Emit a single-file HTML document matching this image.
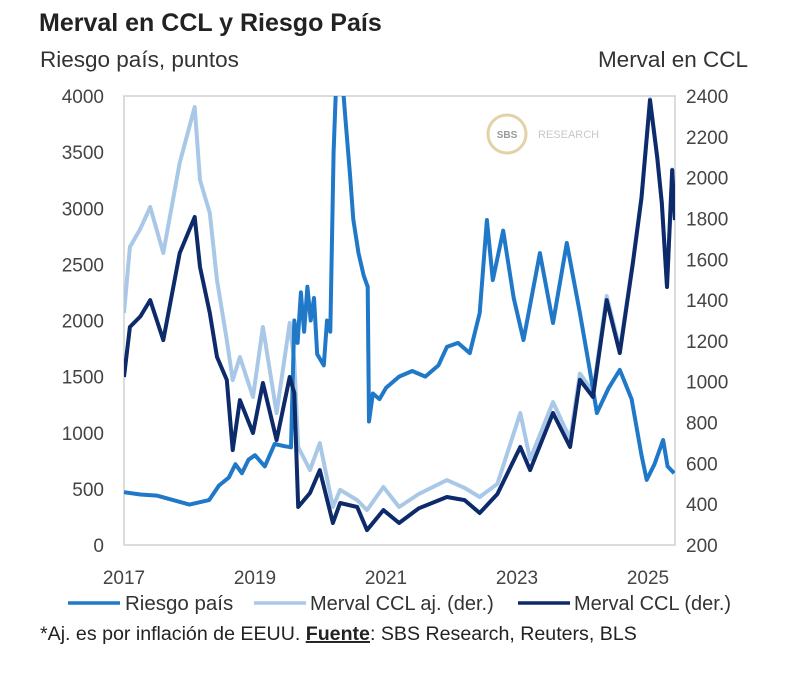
<!DOCTYPE html>
<html><head><meta charset="utf-8"><style>
body{margin:0;background:#fff;font-family:"Liberation Sans",sans-serif;}
#wrap{position:relative;width:800px;height:685px;overflow:hidden;}
</style></head><body>
<div id="wrap">
<svg id="chart" width="800" height="685" font-family="Liberation Sans, sans-serif">
<text x="39" y="31" font-size="25" font-weight="bold" fill="#222">Merval en CCL y Riesgo País</text>
<text x="40" y="67" font-size="22.5" fill="#333">Riesgo país, puntos</text>
<text x="748" y="67" font-size="22.5" fill="#333" text-anchor="end">Merval en CCL</text>
<rect x="124" y="96" width="551" height="449" fill="none" stroke="#d0d0d0" stroke-width="1.5"/>
<g>
<circle cx="507" cy="134" r="19" fill="none" stroke="#e3d2a8" stroke-width="3"/>
<text x="507" y="138" font-size="10" font-weight="bold" fill="#999" text-anchor="middle">SBS</text>
<text x="538" y="138" font-size="11" fill="#c8c8c8">RESEARCH</text>
</g>
<g id="lticks"></g><g id="rticks"></g><g id="xticks"></g>
<defs><clipPath id="clip"><rect x="124" y="96" width="551" height="449"/></clipPath></defs>
<g id="series" clip-path="url(#clip)"></g>
<g>
<line x1="68" y1="603" x2="120" y2="603" stroke="#1f78c8" stroke-width="3.5"/>
<text x="125" y="610" font-size="20.5" fill="#333">Riesgo país</text>
<line x1="254" y1="603" x2="306" y2="603" stroke="#a9c8e8" stroke-width="3.5"/>
<text x="310" y="610" font-size="20" fill="#333">Merval CCL aj. (der.)</text>
<line x1="518" y1="603" x2="570" y2="603" stroke="#0d2a6b" stroke-width="3.5"/>
<text x="574" y="610" font-size="20" fill="#333">Merval CCL (der.)</text>
</g>
<text x="40" y="640" font-size="19.6" fill="#222">*Aj. es por inflación de EEUU. <tspan font-weight="bold" text-decoration="underline">Fuente</tspan>: SBS Research, Reuters, BLS</text>
</svg>
</div>
<script>
const leftTicks=[0,500,1000,1500,2000,2500,3000,3500,4000];
const rightTicks=[200,400,600,800,1000,1200,1400,1600,1800,2000,2200,2400];
const xTickLabels=[2017,2019,2021,2023,2025];
const riesgoDates=[2017.0,2017.25,2017.5,2017.75,2018.0,2018.15,2018.3,2018.45,2018.6,2018.7,2018.8,2018.9,2019.0,2019.15,2019.3,2019.45,2019.55,2019.6,2019.65,2019.7,2019.75,2019.8,2019.85,2019.9,2019.95,2020.05,2020.1,2020.15,2020.2,2020.25,2020.3,2020.38,2020.45,2020.5,2020.58,2020.66,2020.72,2020.74,2020.8,2020.9,2021.0,2021.2,2021.4,2021.6,2021.8,2021.93,2022.1,2022.28,2022.43,2022.54,2022.63,2022.79,2022.95,2023.1,2023.35,2023.55,2023.76,2023.96,2024.1,2024.22,2024.4,2024.57,2024.75,2024.9,2024.98,2025.1,2025.23,2025.3,2025.4];
const riesgoValues=[470,450,440,400,360,380,400,530,600,720,640,760,800,700,900,880,870,2000,1800,2250,1900,2300,2000,2200,1700,1600,2000,1900,3500,4300,4400,3800,3300,2900,2600,2400,2300,1100,1350,1300,1400,1500,1550,1500,1600,1765,1800,1710,2067,2895,2360,2800,2200,1826,2600,1978,2690,2067,1600,1176,1400,1560,1300,800,580,720,935,700,640];
const mervalDates=[2017.0,2017.09,2017.25,2017.4,2017.6,2017.85,2018.08,2018.16,2018.31,2018.42,2018.57,2018.66,2018.77,2018.97,2019.12,2019.33,2019.53,2019.6,2019.66,2019.84,2019.99,2020.19,2020.3,2020.56,2020.71,2020.96,2021.2,2021.5,2021.93,2022.2,2022.43,2022.7,2023.05,2023.2,2023.55,2023.81,2023.96,2024.16,2024.37,2024.57,2024.77,2024.9,2025.03,2025.14,2025.21,2025.29,2025.33,2025.37,2025.41];
const mervalValues=[1023,1268,1320,1400,1204,1630,1807,1562,1337,1121,1009,665,910,749,994,714,1023,945,386,455,567,308,406,386,273,371,308,380,435,420,357,450,680,567,847,680,1009,925,1400,1141,1582,1900,2380,2100,1876,1464,1750,2037,1792];
const mervalAjValues=[1337,1660,1750,1856,1631,2072,2346,1988,1826,1498,1204,1008,1121,925,1268,847,1288,1100,680,567,700,386,470,420,371,484,386,450,518,480,435,500,847,620,900,720,1040,950,1420,1160,1590,1910,2385,2105,1880,1470,1755,2040,1795];
const X0=124,X1=648,Y0=545,Y1=96;
const xs=y=>X0+(y-2017)/8*(X1-X0);
const yl=v=>Y0-v/4000*(Y0-Y1);
const yr=v=>Y0-(v-200)/2200*(Y0-Y1);
const NS="http://www.w3.org/2000/svg";
function mk(tag,attrs,parent){const e=document.createElementNS(NS,tag);for(const k in attrs)e.setAttribute(k,attrs[k]);parent.appendChild(e);return e;}
const lt=document.getElementById('lticks');
leftTicks.forEach(v=>{const t=mk('text',{x:104,y:yl(v)+7,'font-size':19,fill:'#444','text-anchor':'end'},lt);t.textContent=v;

});
const rt=document.getElementById('rticks');
rightTicks.forEach(v=>{const t=mk('text',{x:686,y:yr(v)+7,'font-size':19,fill:'#444'},rt);t.textContent=v;

});
const xt=document.getElementById('xticks');
xTickLabels.forEach(v=>{const t=mk('text',{x:xs(v),y:584,'font-size':19,fill:'#444','text-anchor':'middle'},xt);t.textContent=v;

});
const sg=document.getElementById('series');
function line(dates,vals,sc,color,name){
  const d=dates.map((t,i)=>(i?'L':'M')+xs(t).toFixed(1)+','+sc(vals[i]).toFixed(1)).join('');
  const p=mk('path',{d:d,fill:'none',stroke:color,'stroke-width':4,'stroke-linejoin':'round'},sg);
  
  
}
line(mervalDates,mervalAjValues,yr,'#a9c8e8','merval-ccl-aj-line');
line(riesgoDates,riesgoValues,yl,'#1f78c8','riesgo-pais-line');
line(mervalDates,mervalValues,yr,'#0d2a6b','merval-ccl-line');
</script>
</body></html>
